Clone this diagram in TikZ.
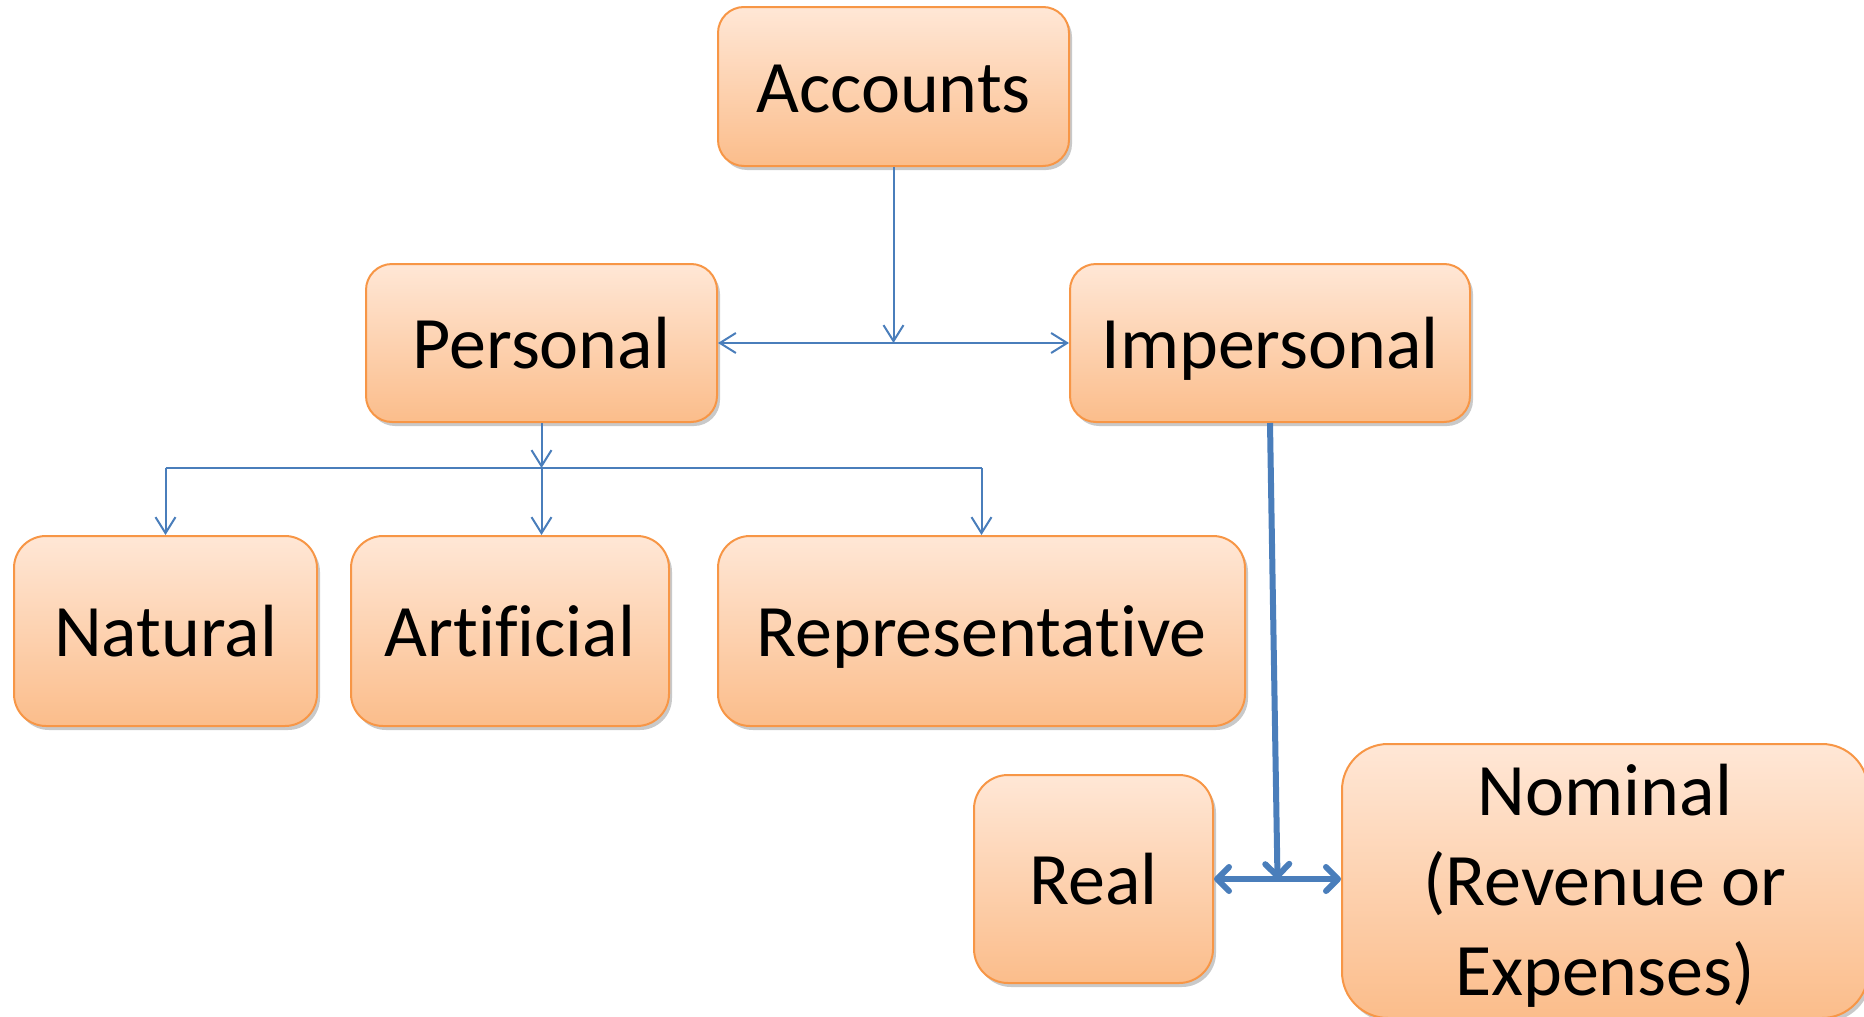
\documentclass[tikz,border=0pt]{standalone}
\usepackage{fontspec}
\setmainfont{Carlito}[Ligatures=NoCommon]
\usetikzlibrary{positioning,arrows.meta,calc,shadows}
\definecolor{acctop}{HTML}{FFE7D6}
\definecolor{accbot}{HTML}{FBBD8B}
\definecolor{accline}{HTML}{F79646}
\definecolor{linkblue}{HTML}{4A7EBB}

\begin{document}
\begin{tikzpicture}[
    every node/.style={font=\fontsize{37}{45}\selectfont},
    box/.style={draw=accline, line width=1pt, top color=acctop, bottom color=accbot,
      align=center, inner sep=0pt, rounded corners=13pt,
      drop shadow={opacity=0.3, shadow xshift=1.5pt, shadow yshift=-2pt, fill=black!70}},
    acct/.style={box, text height=33.3pt, text depth=7.4pt},
    link/.style={draw=linkblue, line width=1pt, -{Straight Barb[length=8pt,width=10pt]}},
    linkboth/.style={draw=linkblue, line width=1pt, {Straight Barb[length=8pt,width=10pt]}-{Straight Barb[length=8pt,width=10pt]}},
    bus/.style={draw=linkblue, line width=1pt},
    biglink/.style={draw=linkblue, line width=3pt, -{Straight Barb[length=6pt,width=12pt,round]}},
    bigboth/.style={draw=linkblue, line width=3pt, {Straight Barb[length=6pt,width=12pt,round]}-{Straight Barb[length=6pt,width=12pt,round]}}
  ]
  \useasboundingbox (0,0) rectangle (932pt,-508.5pt);

  % --- top ---
  \node[acct, minimum width=175.5pt, minimum height=79.5pt] (accounts) at (446.75pt,-43.25pt) {Accounts};

  % --- second level ---
  \node[acct, minimum width=175.5pt, minimum height=79pt] (personal) at (270.75pt,-171.5pt) {Personal};
  \node[acct, minimum width=200pt, minimum height=79pt] (impersonal) at (635pt,-171.5pt) {Impersonal};

  % --- personal kinds ---
  \node[acct, minimum width=151.5pt, minimum height=95pt, rounded corners=16pt] (natural) at (82.75pt,-315.5pt) {Natural};
  \node[acct, minimum width=159pt, minimum height=95pt, rounded corners=16pt] (artificial) at (255pt,-315.5pt) {Artificial};
  \node[acct, minimum width=263.5pt, minimum height=95pt, rounded corners=16pt] (represent) at (490.75pt,-315.5pt) {Representative};

  % --- impersonal kinds ---
  \node[acct, minimum width=119.5pt, minimum height=104pt, rounded corners=17pt] (real) at (546.75pt,-439.5pt) {Real};
  \node[box, minimum width=263pt, minimum height=137pt, rounded corners=23pt, text depth=1.5pt] (nominal) at (802.5pt,-440.5pt) {Nominal\\(Revenue or\\Expenses)};

  % --- arrows: accounts ---
  \draw[linkboth] (personal.east) -- (impersonal.west);
  \draw[link] (accounts.south) -- (accounts.south |- personal.east);

  % --- arrows: personal ---
  \coordinate[below=22.5pt of personal.south] (pbus);
  \draw[link] (personal.south) -- (pbus);
  \draw[bus] (natural.north |- pbus) -- (represent.north |- pbus);
  \draw[link] (natural.north |- pbus) -- (natural.north);
  \draw[link] (pbus) -- (pbus |- artificial.north);
  \draw[link] (represent.north |- pbus) -- (represent.north);

  % --- arrows: impersonal ---
  \coordinate (ijoin) at ($(real.east)!0.5!(real.east -| nominal.west)$);
  \draw[bigboth] (real.east) -- (real.east -| nominal.west);
  \draw[biglink] (impersonal.south) -- (ijoin);

\end{tikzpicture}
\end{document}
